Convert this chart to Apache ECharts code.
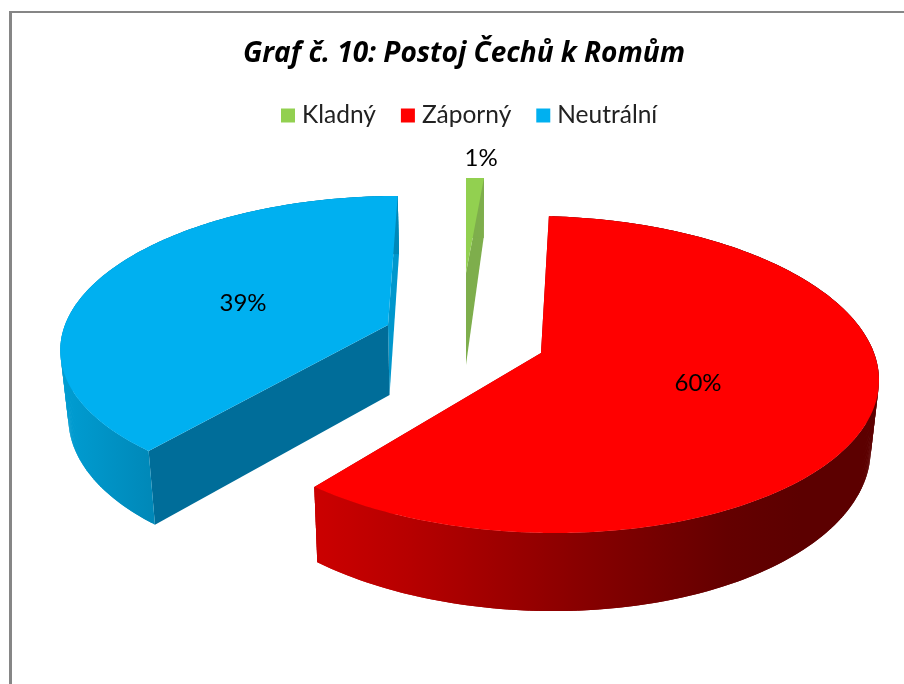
<!DOCTYPE html>
<html><head><meta charset="utf-8">
<style>html,body{margin:0;padding:0;background:#fff}#c{width:904px;height:684px}</style>
<script src="https://cdn.jsdelivr.net/npm/echarts@6/dist/echarts.min.js"></script>
</head><body><div id="c"></div>
<script>
var titleText = 'Graf č. 10: Postoj Čechů k Romům';
var categories = ['Kladný', 'Záporný', 'Neutrální'];
var values = [1, 60, 39];
var colors = ['#92d050', '#ff0000', '#00b0f0'];

// Perspective layout of each exploded slice (no data here)
var P = 0.1356, VX = 465, SHRINK = 0.98;
var layout = [
  {ax:466, ay:273, A:325, B:108,   C:0,   depth:68,   apexDepth:92, labelR:1.23, labelDx:4,
   faceStart:'#7eae4c', faceEnd:'#7eae4c', side:'#7eae4c'},
  {ax:541, ay:353, A:333, B:155.6, C:-12, depth:67.5, apexDepth:70, labelR:0.475, labelDx:0,
   faceStart:'#a00000', faceEnd:'#a00000',
   side:{type:'linear',global:true,x:313,y:0,x2:800,y2:0,colorStops:[
     {offset:0,color:'#cc0000'},{offset:0.2,color:'#b60000'},{offset:0.55,color:'#880000'},{offset:0.85,color:'#640000'},{offset:1,color:'#5c0000'}]}},
  {ax:388, ay:325, A:323, B:146.5, C:11,  depth:66,   apexDepth:70, labelR:0.505, labelDx:0,
   faceStart:'#006d99', faceEnd:'#0097cd',
   side:{type:'linear',global:true,x:62,y:0,x2:153,y2:0,colorStops:[
     {offset:0,color:'#009dd2'},{offset:1,color:'#0088b8'}]}}
];

var total = values.reduce(function(a,b){return a+b;},0);
var starts = [], acc = 0;
values.forEach(function(v){ starts.push(acc/total*360); acc += v; });

function rim(g, deg, bottom){
  var t = deg*Math.PI/180, X = Math.sin(t), Y = Math.cos(t), w = 1+P*Y;
  var x = g.ax+(g.A*X+g.C*Y)/w, y = g.ay-g.B*Y/w;
  return bottom ? [VX+SHRINK*(x-VX), y+g.depth/w] : [x,y];
}
function apex(g, bottom){
  return bottom ? [VX+SHRINK*(g.ax-VX), g.ay+g.apexDepth] : [g.ax,g.ay];
}
function poly(points, fill){
  return {type:'polygon', shape:{points:points}, style:{fill:fill, stroke:null}, silent:true};
}
function renderSlice(params, api){
  var i = params.seriesIndex, g = layout[i];
  var value = api.value(0);
  var a0 = starts[i], a1 = a0+value/total*360;
  var n = Math.max(2, Math.ceil((a1-a0)*1.5));
  var top = [apex(g,false)], strips = [];
  for (var k=0;k<=n;k++){
    var a = a0+(a1-a0)*k/n;
    top.push(rim(g,a,false));
    if (k<n){
      // each strip overlaps the next one so no seam shows
      var b = a0+(a1-a0)*Math.min(k+2,n)/n;
      strips.push(poly([rim(g,a,false),rim(g,b,false),rim(g,b,true),rim(g,a,true)], g.side));
    }
  }
  var t = (a0+a1)/2*Math.PI/180, X = Math.sin(t), Y = Math.cos(t), w = 1+P*Y;
  var lx = g.ax+g.labelR*(g.A*X+g.C*Y)/w+g.labelDx, ly = g.ay-g.labelR*g.B*Y/w+2;
  var children = [
    poly([rim(g,a1,false),rim(g,a1,true),apex(g,true),apex(g,false)], g.faceEnd),
    poly([rim(g,a0,false),rim(g,a0,true),apex(g,true),apex(g,false)], g.faceStart)
  ].concat(strips);
  children.push(poly(top, colors[i]));
  children.push({type:'text', x:lx, y:ly, silent:true, style:{text:Math.round(value/total*100)+'%', fill:'#000',
      font:'24px Lato', align:'center', verticalAlign:'middle'}});
  return {type:'group', children:children};
}

var chart = echarts.init(document.getElementById('c'), null, {renderer:'canvas'});
chart.setOption({
  animation:false,
  backgroundColor:'#ffffff',
  title:{text:titleText, left:243, top:40, padding:0,
    textStyle:{fontFamily:'Open Sans', fontWeight:'bold', fontStyle:'italic', fontSize:28, color:'#000'}},
  legend:{data:categories, left:281, top:103, padding:0, itemWidth:14, itemHeight:14, itemGap:25, icon:'rect',
    textStyle:{fontFamily:'Lato', fontSize:24.5, color:'#222', padding:[0,0,0,2]}},
  graphic:[
    {type:'rect', shape:{x:9,y:11,width:895,height:2}, style:{fill:'#868686'}, silent:true},
    {type:'rect', shape:{x:9,y:11,width:3,height:673}, style:{fill:'#868686'}, silent:true}
  ],
  series: categories.map(function(name,i){
    return {type:'custom', name:name, coordinateSystem:'none', renderItem:renderSlice,
      itemStyle:{color:colors[i]}, data:[[values[i]]], silent:true};
  })
});
</script></body></html>
